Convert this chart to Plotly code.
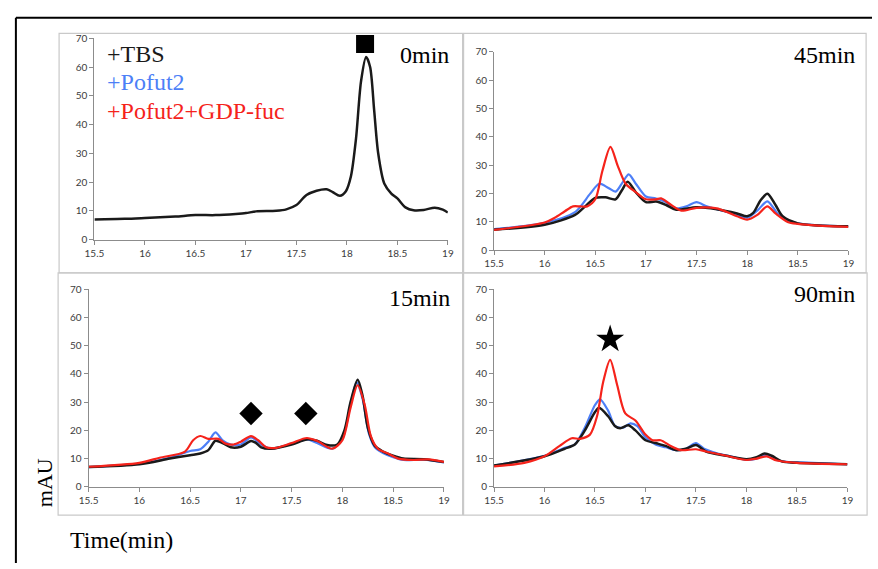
import plotly.graph_objects as go

W, H = 878, 569

# ---------------- data ----------------
# 0 min panel (only +TBS trace)
t0_x = [15.5, 15.8, 16.0, 16.3, 16.5, 16.7, 16.9, 17.0, 17.1, 17.3, 17.4, 17.5, 17.6, 17.7, 17.8,
        17.86, 17.93, 17.99, 18.04, 18.09, 18.14, 18.19, 18.23, 18.27, 18.31, 18.37, 18.44, 18.5,
        18.58, 18.66, 18.76, 18.87, 18.95, 19.0]
t0_tbs = [7.0, 7.2, 7.5, 8.0, 8.5, 8.5, 8.9, 9.2, 9.8, 10.0, 10.5, 12.0, 15.5, 17.0, 17.5,
          16.5, 15.2, 16.8, 22.0, 35.0, 55.0, 63.5, 60.0, 45.0, 30.0, 19.5, 16.0, 14.3,
          11.2, 10.2, 10.3, 11.1, 10.4, 9.4]

# 45 min panel
t45_tbs_x = [15.5, 16.0, 16.3, 16.4, 16.5, 16.6, 16.7, 16.76, 16.82, 16.9, 17.0, 17.1, 17.2, 17.3,
             17.5, 17.7, 17.9, 18.0, 18.06, 18.13, 18.2, 18.28, 18.35, 18.5, 18.7, 19.0]
t45_tbs = [7.3, 9.0, 12.5, 15.5, 18.5, 18.7, 18.0, 21.0, 24.2, 20.5, 17.0, 17.2, 16.0, 14.3,
           15.2, 14.5, 13.0, 12.0, 13.2, 17.5, 20.0, 16.0, 12.0, 9.5, 8.8, 8.5]
t45_pof_x = [15.5, 16.0, 16.3, 16.45, 16.54, 16.63, 16.7, 16.77, 16.83, 16.9, 17.0, 17.1, 17.2, 17.3,
             17.4, 17.5, 17.6, 17.7, 17.9, 18.0, 18.1, 18.2, 18.3, 18.4, 18.5, 18.7, 19.0]
t45_pof = [7.5, 9.7, 13.5, 20.0, 23.5, 22.0, 20.7, 24.0, 26.8, 23.5, 19.0, 18.3, 17.0, 14.8,
           15.5, 17.0, 15.5, 14.5, 12.5, 11.5, 14.0, 17.3, 13.0, 10.5, 9.5, 8.8, 8.5]
t45_gdp_x = [15.5, 16.0, 16.1, 16.2, 16.28, 16.35, 16.42, 16.5, 16.57, 16.65, 16.72, 16.8, 16.9, 17.0,
             17.1, 17.15, 17.25, 17.35, 17.5, 17.7, 17.8, 17.9, 18.0, 18.1, 18.2, 18.28, 18.4, 18.5,
             18.7, 19.0]
t45_gdp = [7.2, 9.8, 11.5, 13.8, 15.5, 15.5, 15.5, 18.0, 28.0, 36.5, 30.0, 23.5, 20.5, 18.0,
           18.0, 18.3, 16.0, 14.0, 15.0, 14.8, 13.5, 12.0, 10.8, 12.5, 15.5, 13.0, 10.0, 9.3,
           8.7, 8.3]

# 15 min panel
t15_tbs_x = [15.5, 16.0, 16.3, 16.5, 16.6, 16.68, 16.75, 16.82, 16.9, 17.0, 17.1, 17.15, 17.2, 17.3,
             17.5, 17.65, 17.75, 17.85, 17.95, 18.02, 18.08, 18.15, 18.2, 18.25, 18.32, 18.4, 18.5,
             18.6, 18.8, 19.0]
t15_tbs = [7.0, 8.0, 10.0, 11.2, 11.8, 13.0, 16.3, 15.5, 14.0, 14.2, 16.2, 15.5, 14.0, 13.5,
           15.0, 16.8, 16.3, 14.8, 15.0, 20.0, 30.0, 38.0, 32.0, 21.0, 14.5, 12.5, 11.0,
           10.0, 9.8, 8.8]
t15_pof_x = [15.5, 16.0, 16.3, 16.5, 16.6, 16.68, 16.75, 16.82, 16.9, 17.0, 17.1, 17.2, 17.3, 17.5,
             17.65, 17.75, 17.9, 18.0, 18.08, 18.14, 18.2, 18.26, 18.32, 18.4, 18.5, 18.6, 18.8, 19.0]
t15_pof = [7.0, 8.2, 10.3, 12.7, 13.3, 16.0, 19.3, 16.5, 15.0, 15.0, 17.5, 15.0, 13.5, 15.3,
           16.8, 15.5, 13.5, 17.0, 29.0, 37.0, 31.0, 19.0, 14.0, 12.0, 10.5, 9.5, 9.6, 8.6]
t15_gdp_x = [15.5, 16.0, 16.2, 16.45, 16.53, 16.6, 16.68, 16.78, 16.85, 16.93, 17.0, 17.1, 17.17,
             17.25, 17.35, 17.5, 17.65, 17.75, 17.9, 18.0, 18.08, 18.15, 18.22, 18.28, 18.35, 18.45,
             18.55, 18.7, 18.85, 19.0]
t15_gdp = [7.1, 8.5, 10.3, 12.5, 16.5, 18.0, 17.0, 17.0, 15.3, 15.0, 16.0, 18.0, 16.5,
           14.0, 13.8, 15.5, 17.3, 16.3, 13.5, 16.5, 28.0, 36.0, 29.0, 18.0, 13.5, 11.8,
           10.0, 9.5, 9.7, 8.8]

# 90 min panel
t90_tbs_x = [15.5, 16.0, 16.2, 16.3, 16.4, 16.5, 16.54, 16.63, 16.7, 16.75, 16.83, 16.9, 17.0, 17.1,
             17.2, 17.3, 17.4, 17.5, 17.6, 17.8, 18.0, 18.1, 18.18, 18.25, 18.35, 18.5, 19.0]
t90_tbs = [7.5, 10.8, 13.5, 15.0, 20.0, 26.5, 28.0, 25.0, 21.5, 20.8, 21.8, 20.0, 16.5, 15.5,
           14.5, 13.0, 13.5, 14.8, 12.5, 11.0, 9.8, 10.5, 11.8, 11.0, 9.0, 8.5, 8.0]
t90_pof_x = [15.5, 16.0, 16.2, 16.3, 16.4, 16.5, 16.55, 16.63, 16.7, 16.78, 16.85, 16.92, 17.0, 17.1,
             17.2, 17.3, 17.4, 17.5, 17.58, 17.7, 17.9, 18.0, 18.1, 18.18, 18.3, 18.4, 18.6, 19.0]
t90_pof = [7.5, 11.0, 13.8, 15.0, 21.0, 29.0, 31.0, 27.0, 21.5, 21.0, 22.5, 21.5, 17.5, 15.0,
           14.0, 13.0, 13.5, 15.5, 13.5, 12.0, 10.3, 9.5, 10.0, 11.2, 9.5, 8.8, 8.6, 8.0]
t90_gdp_x = [15.5, 15.8, 16.0, 16.15, 16.27, 16.35, 16.45, 16.52, 16.58, 16.65, 16.72, 16.8, 16.9,
             17.0, 17.07, 17.15, 17.25, 17.35, 17.5, 17.6, 17.8, 18.0, 18.1, 18.2, 18.3, 18.5, 19.0]
t90_gdp = [7.2, 8.5, 10.8, 14.5, 17.2, 17.0, 18.5, 25.0, 37.0, 45.0, 36.0, 26.0, 23.5,
           18.5, 16.5, 16.5, 14.5, 13.0, 13.3, 12.5, 11.0, 9.5, 10.0, 10.8, 9.3, 8.5, 8.0]

x_ticks = [15.5, 16, 16.5, 17, 17.5, 18, 18.5, 19]
y_ticks = [0, 10, 20, 30, 40, 50, 60, 70]

series_names = ["+TBS", "+Pofut2", "+Pofut2+GDP-fuc"]
panel_titles = ["0min", "45min", "15min", "90min"]

# annotation symbols (data coordinates inside their panel)
square_x, square_y = [18.18], [68]
diamond_x, diamond_y = [17.1, 17.64], [26, 26]
star_x, star_y = [16.65], [52.3]

# ---------------- style ----------------
C_BLACK = "#1a1a1a"
C_BLUE = "#4d7ff7"
C_RED = "#f5231b"
colors = [C_BLACK, C_BLUE, C_RED]
widths = [2.5, 2.2, 2.2]
SERIF = "Liberation Serif"


# page-pixel -> paper helpers
def fx(px):
    return px / W


def fy(py):
    return 1 - py / H


fig = go.Figure()

# plot areas in page pixels: (left, right, top, bottom)
areas = [
    (86, 446, 32, 238),    # 0min
    (493, 854, 46, 249),   # 45min
    (80, 442, 289, 491),   # 15min
    (493, 853, 289, 491),  # 90min
]

panels = [
    [(t0_x, t0_tbs, 0)],
    [(t45_tbs_x, t45_tbs, 0), (t45_pof_x, t45_pof, 1), (t45_gdp_x, t45_gdp, 2)],
    [(t15_tbs_x, t15_tbs, 0), (t15_pof_x, t15_pof, 1), (t15_gdp_x, t15_gdp, 2)],
    [(t90_tbs_x, t90_tbs, 0), (t90_pof_x, t90_pof, 1), (t90_gdp_x, t90_gdp, 2)],
]

for i, (area, traces) in enumerate(zip(areas, panels)):
    n = "" if i == 0 else str(i + 1)
    xa, ya = "x" + n, "y" + n
    order = sorted(traces, key=lambda t: {1: 0, 0: 1, 2: 2}[t[2]])
    for xs, ys, ci in order:
        fig.add_trace(go.Scatter(
            x=xs, y=ys, mode="lines", name=series_names[ci],
            line=dict(color=colors[ci], width=widths[ci], shape="spline", smoothing=0.8),
            xaxis=xa, yaxis=ya, showlegend=False, hoverinfo="skip"))
    l, r, t, b = area
    axis_common = dict(showline=True, linecolor="#8c8c8c", linewidth=1, ticks="outside",
                       ticklen=4, tickcolor="#8c8c8c", showgrid=False, zeroline=False,
                       tickfont=dict(family="Lato", size=10, color="#3c3c3c"))
    fig.layout["xaxis" + n] = dict(domain=[fx(l), fx(r)], anchor=ya, range=[15.5, 19],
                                   tickvals=x_ticks, ticktext=[f"{v:g}" for v in x_ticks],
                                   **axis_common)
    fig.layout["yaxis" + n] = dict(domain=[fy(b), fy(t)], anchor=xa, range=[0, 70],
                                   tickvals=y_ticks, **axis_common)

# symbol markers
fig.add_trace(go.Scatter(x=square_x, y=square_y, mode="markers", xaxis="x", yaxis="y",
                         marker=dict(symbol="square", size=18, color="black"),
                         showlegend=False, hoverinfo="skip", cliponaxis=False))
fig.add_trace(go.Scatter(x=diamond_x, y=diamond_y, mode="markers", xaxis="x3", yaxis="y3",
                         marker=dict(symbol="diamond", size=18, color="black"),
                         showlegend=False, hoverinfo="skip"))
fig.add_trace(go.Scatter(x=star_x, y=star_y, mode="markers", xaxis="x4", yaxis="y4",
                         marker=dict(symbol="star", size=21, color="black"),
                         showlegend=False, hoverinfo="skip"))

shapes = []
# panel frames
frames = [(50, 461, 27, 272), (462, 872, 27, 272), (49, 461, 272, 520), (462, 873, 272, 520)]
for l, r, t, b in frames:
    shapes.append(dict(type="rect", xref="paper", yref="paper",
                       x0=fx(l), x1=fx(r), y0=fy(b), y1=fy(t),
                       line=dict(color="#c9c9c9", width=1.2), layer="below"))
# outer black frame (left and top visible)
shapes.append(dict(type="line", xref="paper", yref="paper",
                   x0=fx(6), x1=1.0, y0=fy(11), y1=fy(11),
                   line=dict(color="black", width=2)))
shapes.append(dict(type="line", xref="paper", yref="paper",
                   x0=fx(6), x1=fx(6), y0=0.0, y1=fy(11),
                   line=dict(color="black", width=2)))

annotations = []
# panel titles (right-aligned)
title_pos = [(449, 49), (863, 49), (450, 298), (863, 294)]
for txt, (x, y) in zip(panel_titles, title_pos):
    annotations.append(dict(text=txt, x=fx(x), y=fy(y), xref="paper", yref="paper",
                            xanchor="right", yanchor="middle", showarrow=False,
                            font=dict(family=SERIF, size=24, color="black")))
# legend texts
leg_y = [48, 77, 106]
for txt, c, y in zip(series_names, colors, leg_y):
    annotations.append(dict(text=txt, x=fx(97), y=fy(y), xref="paper", yref="paper",
                            xanchor="left", yanchor="middle", showarrow=False,
                            font=dict(family=SERIF, size=24, color=c)))
# axis titles
annotations.append(dict(text="mAU", x=fx(36), y=fy(487), xref="paper", yref="paper",
                        xanchor="center", yanchor="middle", showarrow=False, textangle=-90,
                        font=dict(family=SERIF, size=22, color="black")))
annotations.append(dict(text="Time(min)", x=fx(59), y=fy(545), xref="paper", yref="paper",
                        xanchor="left", yanchor="middle", showarrow=False,
                        font=dict(family=SERIF, size=24, color="black")))

fig.update_layout(width=W, height=H, margin=dict(l=0, r=0, t=0, b=0),
                  paper_bgcolor="white", plot_bgcolor="white",
                  shapes=shapes, annotations=annotations, showlegend=False)

fig.write_html("out.html")
